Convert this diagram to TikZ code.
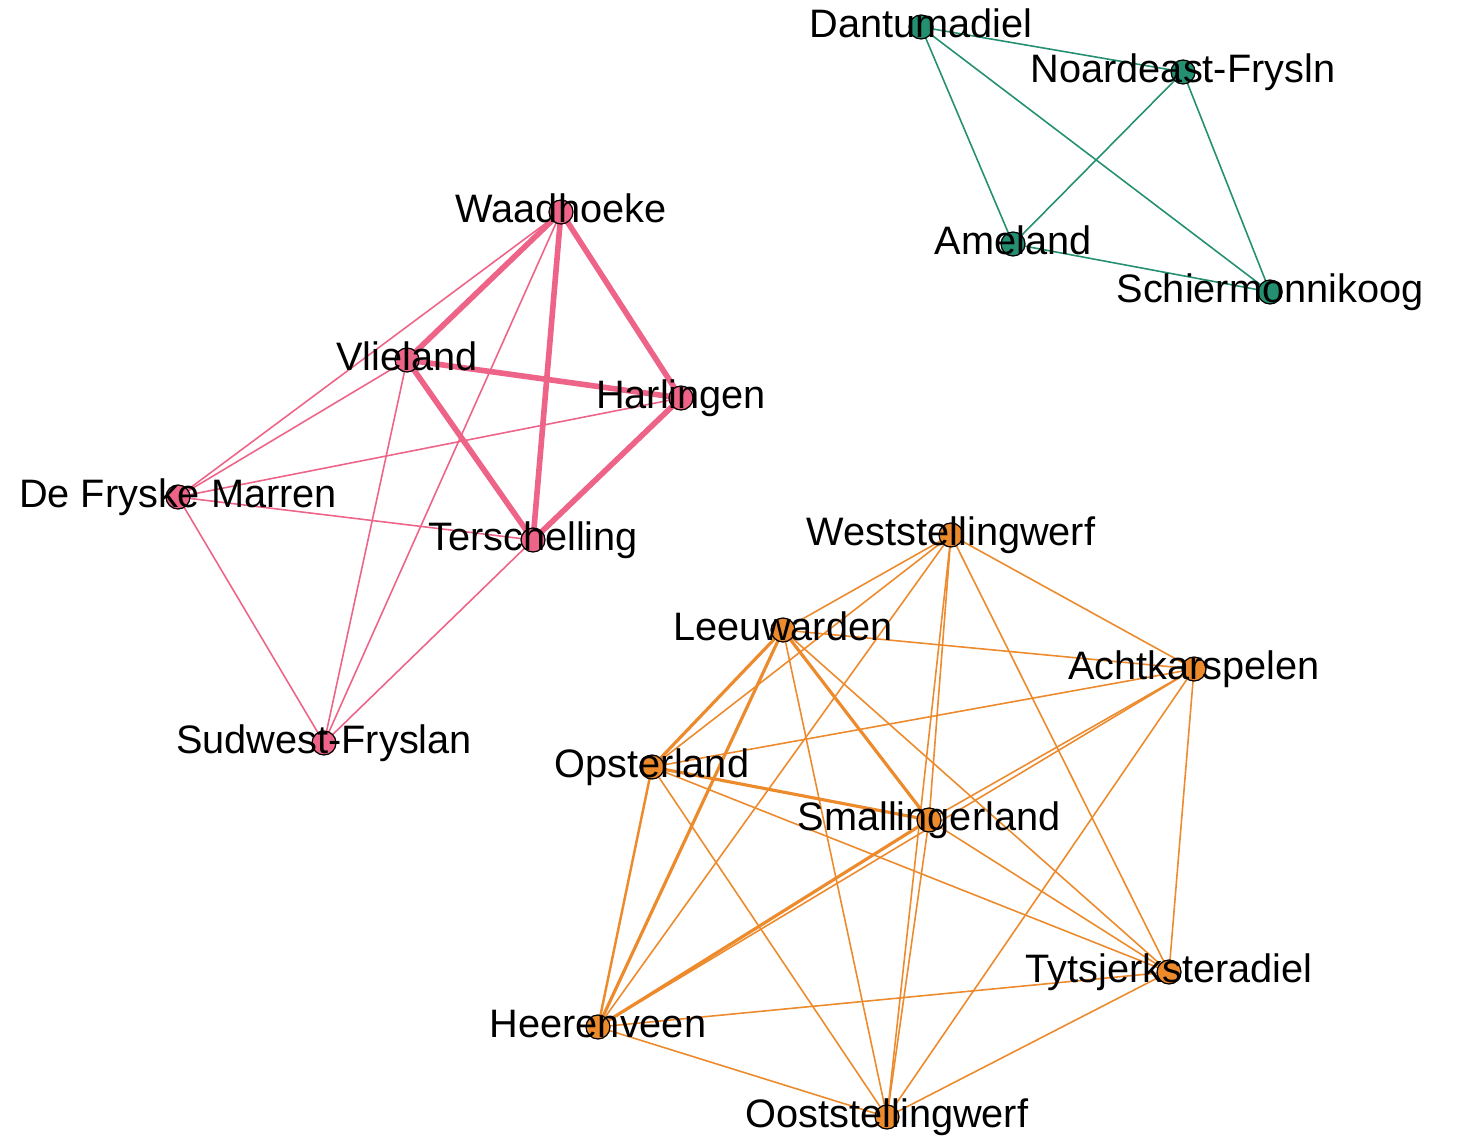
\documentclass[tikz,border=0pt]{standalone}
\usepackage{fontspec}
\setmainfont{Liberation Sans}
\definecolor{rosered}{RGB}{238,100,136}
\definecolor{seagreen}{RGB}{36,143,113}
\definecolor{amber}{RGB}{236,138,44}

\begin{document}
\begin{tikzpicture}[
    vtx/.style={circle, draw=black, line width=0.35pt, inner sep=0pt, minimum size=0.24cm},
    lbl/.style={font=\fontsize{11.3}{11.3}\selectfont, inner sep=0pt, text height=8.4pt, text depth=0pt, yshift=0.04cm}
]
    \useasboundingbox (0,0) rectangle (14.62,11.38);

    % Municipality positions (south-west group)
    \coordinate (waad) at (5.61, 9.26);
    \coordinate (vlie) at (4.07, 7.78);
    \coordinate (harl) at (6.81, 7.40);
    \coordinate (ters) at (5.33, 5.98);
    \coordinate (dfm)  at (1.78, 6.41);
    \coordinate (sudw) at (3.24, 3.95);

    % Islands and north-east group
    \coordinate (dant) at (9.21, 11.11);
    \coordinate (noar) at (11.83, 10.66);
    \coordinate (amel) at (10.13, 8.94);
    \coordinate (schi) at (12.70, 8.46);

    % South-east group
    \coordinate (west) at (9.51, 6.03);
    \coordinate (leeu) at (7.83, 5.08);
    \coordinate (acht) at (11.94, 4.69);
    \coordinate (opst) at (6.52, 3.71);
    \coordinate (smal) at (9.29, 3.18);
    \coordinate (tyts) at (11.69, 1.66);
    \coordinate (heer) at (5.98, 1.11);
    \coordinate (oost) at (8.87, 0.21);

    % Edges
    \foreach \a/\b in {waad/vlie, waad/harl, waad/ters, vlie/harl, vlie/ters, harl/ters} {
        \draw[rosered, line width=1.6pt] (\a) -- (\b);
    }
    \foreach \a/\b in {waad/dfm, waad/sudw, vlie/dfm, vlie/sudw, harl/dfm, dfm/ters, dfm/sudw, ters/sudw} {
        \draw[rosered, line width=0.45pt] (\a) -- (\b);
    }
    \foreach \a/\b in {dant/noar, dant/amel, dant/schi, noar/amel, noar/schi, amel/schi} {
        \draw[seagreen, line width=0.45pt] (\a) -- (\b);
    }
    \foreach \a/\b/\w in {west/leeu/0.45, west/opst/0.45, west/heer/0.45, west/smal/0.45,
        west/oost/0.45, west/tyts/0.45, west/acht/0.45,
        leeu/acht/0.45, leeu/opst/0.9, leeu/heer/0.9, leeu/oost/0.45, leeu/smal/0.9, leeu/tyts/0.45,
        acht/opst/0.45, acht/smal/0.45, acht/heer/0.45, acht/tyts/0.45, acht/oost/0.45,
        opst/smal/0.9, opst/tyts/0.45, opst/heer/0.7, opst/oost/0.45,
        smal/tyts/0.45, smal/heer/0.9, smal/oost/0.45,
        tyts/heer/0.45, tyts/oost/0.45, heer/oost/0.45} {
        \draw[amber, line width=\w pt] (\a) -- (\b);
    }

    % Vertices
    \foreach \p/\c in {waad/rosered, vlie/rosered, harl/rosered, ters/rosered, dfm/rosered, sudw/rosered,
        dant/seagreen, noar/seagreen, amel/seagreen, schi/seagreen,
        west/amber, leeu/amber, acht/amber, opst/amber, smal/amber, tyts/amber, heer/amber, oost/amber} {
        \node[vtx, fill=\c] (\p-v) at (\p) {};
    }

    % Labels
    \foreach \p/\t in {waad/Waadhoeke, vlie/Vlieland, harl/Harlingen, ters/Terschelling,
        dfm/De Fryske Marren, sudw/Sudwest-Fryslan,
        dant/Dantumadiel, noar/Noardeast-Frysln, amel/Ameland, schi/Schiermonnikoog,
        west/Weststellingwerf, leeu/Leeuwarden, acht/Achtkarspelen, opst/Opsterland,
        smal/Smallingerland, tyts/Tytsjerksteradiel, heer/Heerenveen, oost/Ooststellingwerf} {
        \node[lbl] (\p-l) at (\p) {\t};
    }
\end{tikzpicture}
\end{document}
